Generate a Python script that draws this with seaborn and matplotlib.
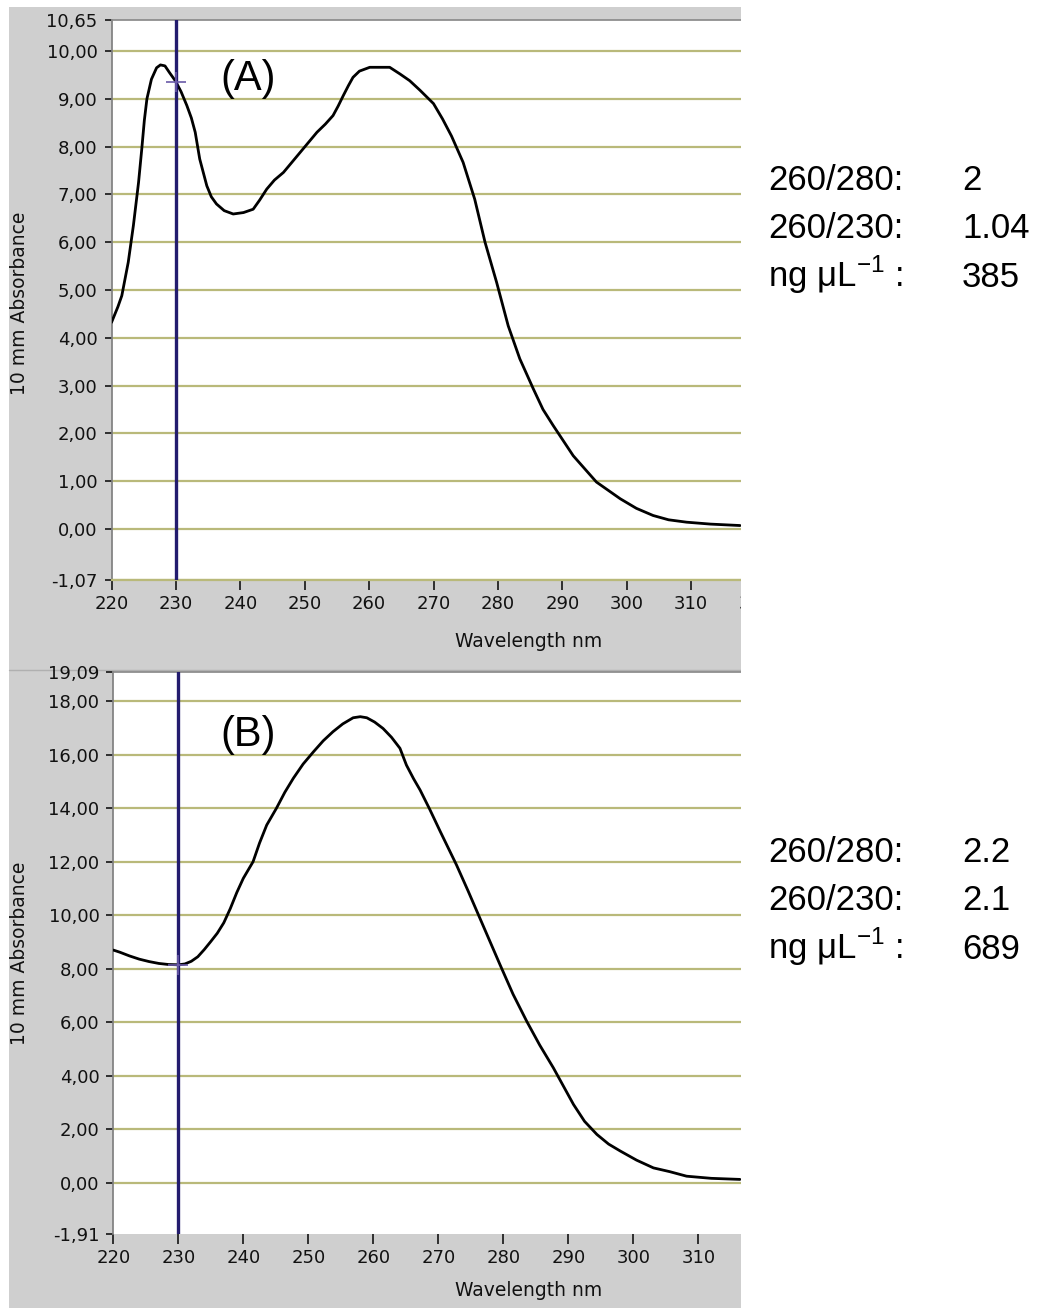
import numpy as np
import pandas as pd
import matplotlib
matplotlib.use("Agg")
import matplotlib.pyplot as plt
import seaborn as sns
from matplotlib.patches import Rectangle

# -----------------------------------------------------
# DATA
# -----------------------------------------------------

wl_a = [220.0, 221.0, 221.6, 222.6, 223.4, 224.2, 224.7, 225.1, 225.5, 226.2,
        227.0, 227.6, 228.3, 229.0, 229.9, 230.8, 231.7, 232.4, 233.0, 233.7,
        234.8, 235.5, 236.3, 237.5, 238.9, 240.5, 242.0, 243.0, 244.1, 245.3,
        246.7, 248.0, 249.3, 250.6, 251.9, 253.2, 254.4, 255.2, 256.0, 256.8,
        257.5, 258.5, 260.1, 263.2, 264.8, 266.3, 267.9, 270.0, 271.4, 272.8,
        274.6, 276.4, 278.0, 279.8, 281.6, 283.4, 285.5, 287.0, 288.6, 291.7,
        295.3, 299.0, 301.5, 304.1, 306.5, 309.3, 313.0, 317.6]
abs_a = [4.32, 4.65, 4.88, 5.58, 6.35, 7.25, 7.95, 8.55, 9.00, 9.41,
         9.65, 9.71, 9.69, 9.55, 9.38, 9.15, 8.86, 8.60, 8.30, 7.74,
         7.18, 6.95, 6.80, 6.66, 6.59, 6.62, 6.69, 6.88, 7.11, 7.30,
         7.46, 7.67, 7.88, 8.09, 8.30, 8.47, 8.65, 8.85, 9.07, 9.28,
         9.45, 9.58, 9.66, 9.66, 9.52, 9.38, 9.18, 8.90, 8.58, 8.22,
         7.67, 6.90, 6.00, 5.16, 4.25, 3.56, 2.93, 2.50, 2.16, 1.53,
         0.98, 0.63, 0.43, 0.28, 0.19, 0.14, 0.10, 0.07]

wl_b = [220.0, 221.0, 222.5, 224.0, 225.5, 227.0, 228.5, 230.0, 231.0, 232.0,
        233.0, 234.0, 235.0, 236.0, 237.0, 238.0, 239.0, 240.0, 241.5, 242.5,
        243.6, 245.1, 246.4, 247.7, 249.2, 250.8, 252.3, 253.8, 255.3, 256.9,
        258.0, 259.0, 260.2, 261.5, 262.8, 264.1, 265.1, 266.2, 267.2, 268.7,
        270.3, 272.8, 274.6, 276.4, 279.5, 281.5, 283.6, 285.6, 287.7, 290.8,
        292.5, 294.4, 296.2, 298.0, 300.5, 303.1, 305.6, 308.2, 312.0, 316.4]
abs_b = [8.70, 8.62, 8.48, 8.36, 8.27, 8.20, 8.16, 8.15, 8.18, 8.28,
         8.45, 8.72, 9.02, 9.33, 9.72, 10.25, 10.85, 11.38, 12.00, 12.70,
         13.37, 14.00, 14.60, 15.12, 15.65, 16.11, 16.52, 16.86, 17.15, 17.38,
         17.42, 17.38, 17.22, 16.98, 16.65, 16.24, 15.61, 15.10, 14.68, 13.95,
         13.13, 11.88, 10.90, 9.89, 8.15, 7.05, 6.04, 5.15, 4.30, 2.93,
         2.30, 1.81, 1.45, 1.19, 0.85, 0.56, 0.42, 0.25, 0.17, 0.13]

cursor_wl = 230
x_ticks = list(range(220, 330, 10))

yticks_a = [-1.07, 0, 1, 2, 3, 4, 5, 6, 7, 8, 9, 10, 10.65]
grid_a = [-1.07, 0, 1, 2, 3, 4, 5, 6, 7, 8, 9, 10]
yticks_b = [-1.91, 0, 2, 4, 6, 8, 10, 12, 14, 16, 18, 19.09]
grid_b = [0, 2, 4, 6, 8, 10, 12, 14, 16, 18]

labels_left = ["260/280:", "260/230:", "ng μL$^{\\mathregular{-1}}$ :"]
values_a = ["2", "1.04", "385"]
values_b = ["2.2", "2.1", "689"]

# -----------------------------------------------------
# STYLE
# -----------------------------------------------------

sns.set_theme(style="white")
plt.rcParams["font.family"] = ["DejaVu Sans"]
plt.rcParams["mathtext.fontset"] = "custom"
plt.rcParams["mathtext.rm"] = "Liberation Sans"

W, H = 1038, 1308
GRAY = "#cfcfcf"
GRID = "#b9b97a"
NAVY = "#231c6e"


def fx(px):
    return px / W


def fy(py):
    return 1 - py / H


fig = plt.figure(figsize=(W / 100, H / 100), dpi=100)
fig.patch.set_facecolor("white")

# gray window background
fig.patches.append(Rectangle((fx(9), fy(1308)), fx(741) - fx(9), fy(7) - fy(1308),
                             transform=fig.transFigure, facecolor=GRAY,
                             edgecolor="none", zorder=-5))
fig.lines.append(plt.Line2D([fx(9), fx(741)], [fy(670), fy(670)],
                            transform=fig.transFigure, color="#b0b0b0", lw=1, zorder=-4))


def make_panel(left, top, bottom, px_per_nm, wl, ab, yticks, grid, ylim, bottom_line):
    xlim = (220, 322)
    right = left + (xlim[1] - xlim[0]) * px_per_nm
    ax = fig.add_axes([fx(left), fy(bottom), fx(right) - fx(left), fy(top) - fy(bottom)])
    ax.set_facecolor("white")

    for g in grid:
        ax.axhline(g, color=GRID, lw=1.6, zorder=1)

    df = pd.DataFrame({"wl": wl, "abs": ab})
    sns.lineplot(data=df, x="wl", y="abs", color="black", lw=2.0, ax=ax, zorder=3)

    ax.axvline(cursor_wl, color=NAVY, lw=2.4, zorder=4)
    cy = np.interp(cursor_wl, wl, ab)
    ax.plot([cursor_wl], [cy], marker="+", ms=14, mew=1.2, color="#6a5aa8", zorder=5)

    ax.set_xlim(*xlim)
    ax.set_ylim(*ylim)
    ax.set_xticks(x_ticks)
    ax.set_xticklabels([str(t) for t in x_ticks])
    ax.set_yticks(yticks)
    ax.set_yticklabels([f"{v:.2f}".replace(".", ",") for v in yticks])
    ax.tick_params(axis="both", which="both", direction="out", length=5, width=1.3,
                   color="#222222", labelsize=13, labelcolor="#111111",
                   left=True, bottom=True)
    ax.tick_params(axis="y", pad=5)
    ax.tick_params(axis="x", length=7, pad=4)
    ax.set_xlabel("")
    ax.set_ylabel("")

    ax.spines["left"].set_color("#808080")
    ax.spines["top"].set_color("#8a8a8a")
    ax.spines["right"].set_visible(False)
    ax.spines["bottom"].set_visible(bottom_line)
    ax.spines["bottom"].set_color(GRID)
    ax.spines["bottom"].set_linewidth(1.6)
    return ax


ax_a = make_panel(111.5, 20, 580, 6.44, wl_a, abs_a, yticks_a, grid_a, (-1.07, 10.65), True)
ax_b = make_panel(113.3, 672, 1234, 6.5, wl_b, abs_b, yticks_b, grid_b, (-1.91, 19.09), False)

# cover the part of the screenshot that was cut off
fig.patches.append(Rectangle((fx(741), 0), 1 - fx(741), 1, transform=fig.transFigure,
                             facecolor="white", edgecolor="none", zorder=2))

# axis titles
for ycen in (303, 953):
    fig.text(fx(20), fy(ycen), "10 mm Absorbance", rotation=90, ha="center",
             va="center", fontsize=13.5, color="#111111")
for ycen in (641, 1290):
    fig.text(fx(529), fy(ycen), "Wavelength nm", ha="center", va="center",
             fontsize=13.5, color="#111111")

# panel letters
fig.text(fx(248), fy(79), "(A)", ha="center", va="center", fontsize=30,
         family="Liberation Sans", color="black", zorder=6)
fig.text(fx(248), fy(735), "(B)", ha="center", va="center", fontsize=30,
         family="Liberation Sans", color="black", zorder=6)

# purity / concentration notes
for offset, vals in ((0, values_a), (672, values_b)):
    for i, (lab, val) in enumerate(zip(labels_left, vals)):
        base = 190 + 48.5 * i + offset
        fig.text(fx(768), fy(base), lab, ha="left", va="baseline", fontsize=25,
                 family="Liberation Sans", color="black", zorder=6)
        fig.text(fx(962), fy(base), val, ha="left", va="baseline", fontsize=25,
                 family="Liberation Sans", color="black", zorder=6)

plt.savefig("out.png", dpi=100)
plt.close()
print("[OK] Saved: out.png")
